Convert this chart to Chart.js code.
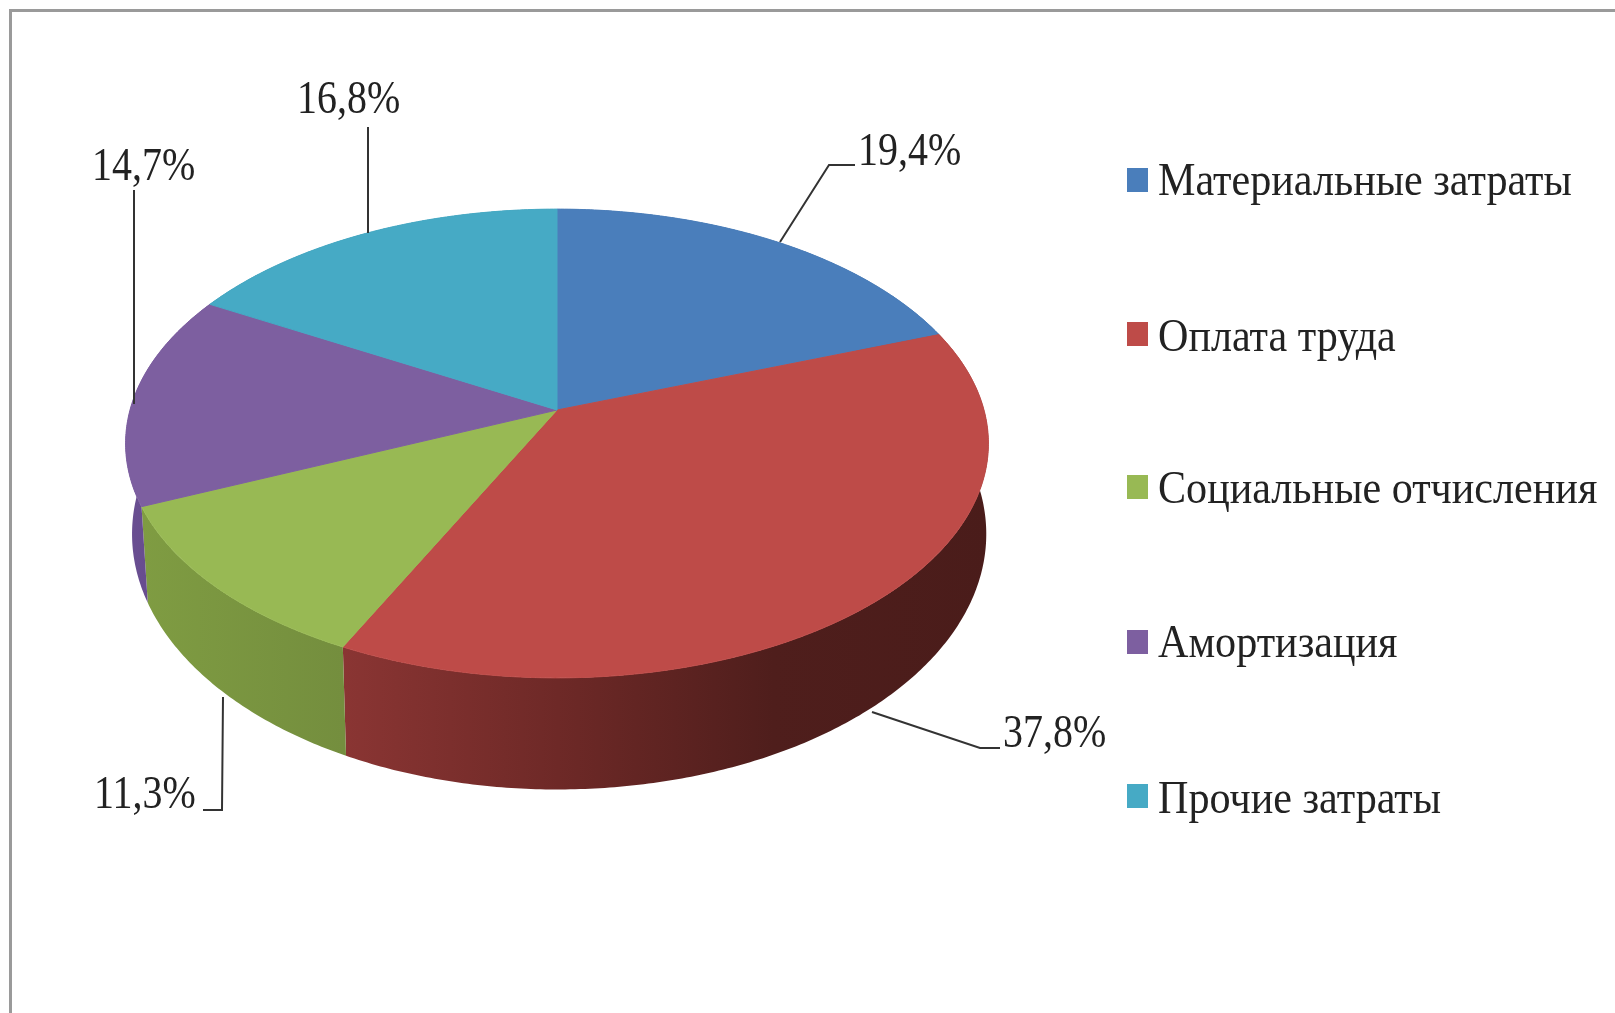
<!DOCTYPE html>
<html>
<head>
<meta charset="utf-8">
<title>Структура затрат</title>
<script src="https://cdn.jsdelivr.net/npm/chart.js@4"></script>
<style>
html, body { margin: 0; padding: 0; background: #fff; }
canvas { display: block; filter: blur(0.5px); }
</style>
</head>
<body>
<canvas id="pieChart" width="1615" height="1013"></canvas>
<script>
const categories = ['Материальные затраты', 'Оплата труда', 'Социальные отчисления', 'Амортизация', 'Прочие затраты'];
const values = [19.4, 37.8, 11.3, 14.7, 16.8];
const sliceColors = ['#4a7ebb', '#be4b48', '#98b954', '#7d5fa0', '#46aac5'];

// side wall shading, left to right
const wallColors = [
    ['#2c4d74', '#2c4d74'],
    ['#8a3533', '#6e2927', '#4f1e1c', '#4a1c1a'],
    ['#7f9c42', '#748e3e'],
    ['#6a4f92', '#5f4686'],
    ['#2a6a7c', '#2a6a7c']
];

// perspective of the pie top, fitted to the picture
const cx = 557, cy = 410, ra = 427, rb = 229.6, persp = -0.1429;
const wallXLeft = 0.985, wallXRight = 0.995, wallY = 1.09, wallDrop = 87.5;

// label places: [left, baseline], leader polyline
const labelPos = [[858, 165], [1003, 747], [94, 808], [92, 180], [297, 113]];
const leaders = [
    [[855, 165], [829, 165], [780, 242]],
    [[1000, 748], [980, 748], [872, 712]],
    [[203, 810], [222, 810], [223, 697]],
    [[134, 190], [134, 404]],
    [[368, 127], [368, 233]]
];
const legendLeft = 1127, legendText = 1158;
const legendRows = [180, 334, 487, 642, 796];
const legendBase = [195, 351, 503, 657, 813];

function rimPoint(angle, lower) 
{
    const u = Math.cos(angle), v = Math.sin(angle);
    const d = 1 + persp * v;
    const x = ra * u / d, y = rb * v / d;
    if (lower) {
        return [cx + x * (x < 0 ? wallXLeft : wallXRight), cy + y * wallY + wallDrop];
    }
    return [cx + x, cy + y];
}

function rimAngles(a0, a1) 
{
    const out = [];
    const n = Math.max(2, Math.ceil((a1 - a0) / 0.01));
    for (let i = 0; i <= n; i++) {
        out.push(a0 + (a1 - a0) * i / n);
    }
    return out;
}

function drawWall(ctx, el, i) 
{
    const angles = rimAngles(el.startAngle, el.endAngle);
    let minX = 1e9, maxX = -1e9;
    ctx.beginPath();
    angles.forEach((a, j) => {
        const p = rimPoint(a, false);
        minX = Math.min(minX, p[0]);
        maxX = Math.max(maxX, p[0]);
        if (j === 0) ctx.moveTo(p[0], p[1]); else ctx.lineTo(p[0], p[1]);
    });
    angles.slice().reverse().forEach((a) => {
        const p = rimPoint(a, true);
        ctx.lineTo(p[0], p[1]);
    });
    ctx.closePath();
    const grad = ctx.createLinearGradient(minX, 0, maxX, 0);
    wallColors[i].forEach((c, j) => grad.addColorStop(j / (wallColors[i].length - 1), c));
    ctx.fillStyle = grad;
    ctx.fill();
}

function drawTop(ctx, el) 
{
    ctx.beginPath();
    ctx.moveTo(cx, cy);
    rimAngles(el.startAngle, el.endAngle).forEach((a) => {
        const p = rimPoint(a, false);
        ctx.lineTo(p[0], p[1]);
    });
    ctx.closePath();
    ctx.fillStyle = el.options.backgroundColor;
    ctx.strokeStyle = el.options.backgroundColor;
    ctx.lineWidth = 1;
    ctx.fill();
    ctx.stroke();
}

function squeezedText(ctx, text, x, y, squeeze) 
{
    ctx.save();
    ctx.translate(x, y);
    ctx.scale(squeeze, 1);
    ctx.fillText(text, 0, 0);
    ctx.restore();
}

const pie3d = {
    id: 'pie3d',
    beforeDatasetsDraw(chart) {
        const ctx = chart.ctx;
        const arcs = chart.getDatasetMeta(0).data;

        // frame of the picture
        ctx.save();
        ctx.strokeStyle = '#9a9a9a';
        ctx.lineWidth = 3;
        ctx.beginPath();
        ctx.moveTo(10.5, 1013);
        ctx.lineTo(10.5, 10.5);
        ctx.lineTo(1615, 10.5);
        ctx.stroke();
        ctx.restore();

        ctx.save();
        arcs.forEach((el, i) => drawWall(ctx, el, i));
        arcs.forEach((el) => drawTop(ctx, el));
        ctx.restore();

        // leaders and value labels
        ctx.save();
        ctx.strokeStyle = '#333';
        ctx.lineWidth = 2;
        leaders.forEach((line) => {
            ctx.beginPath();
            line.forEach((p, j) => {
                if (j === 0) ctx.moveTo(p[0], p[1]); else ctx.lineTo(p[0], p[1]);
            });
            ctx.stroke();
        });
        ctx.fillStyle = '#222';
        ctx.font = '47px "Liberation Serif"';
        ctx.textBaseline = 'alphabetic';
        values.forEach((v, i) => {
            squeezedText(ctx, v.toFixed(1).replace('.', ',') + '%', labelPos[i][0], labelPos[i][1], 0.85);
        });

        // legend
        ctx.font = '46px "Liberation Serif"';
        categories.forEach((name, i) => {
            ctx.fillStyle = sliceColors[i];
            ctx.fillRect(legendLeft, legendRows[i] - 12, 21, 24);
            ctx.fillStyle = '#222';
            squeezedText(ctx, name, legendText, legendBase[i], 0.916);
        });
        ctx.restore();
        return false;
    }
};

new Chart(document.getElementById('pieChart'), {
    type: 'pie',
    data: {
        labels: categories,
        datasets: [{
            data: values,
            backgroundColor: sliceColors,
            borderWidth: 0
        }]
    },
    options: {
        responsive: false,
        animation: false,
        plugins: {
            legend: { display: false },
            tooltip: { enabled: false }
        }
    },
    plugins: [pie3d]
});
</script>
</body>
</html>
